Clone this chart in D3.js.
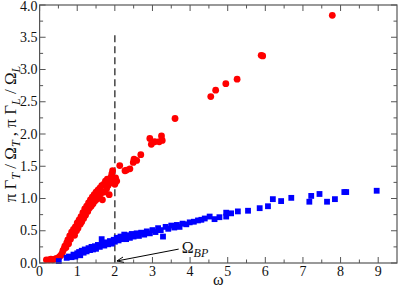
<!DOCTYPE html>
<html>
<head>
<meta charset="utf-8">
<script src="https://cdn.jsdelivr.net/npm/d3@7"></script>
<style>
  body { margin: 0; background: #fff; }
</style>
</head>
<body>
<div id="chart"></div>
<script>
// transverse damping (red circles): [omega, value]
const redPoints = [
  [0.18, 0.05], [0.25, 0.05], [0.3, 0.06], [0.35, 0.05], [0.4, 0.06], [0.45, 0.07],
  [0.5, 0.08], [0.53, 0.1], [0.57, 0.12], [0.6, 0.15], [0.62, 0.19], [0.65, 0.22],
  [0.67, 0.26], [0.7, 0.24], [0.72, 0.31], [0.75, 0.36], [0.77, 0.3], [0.8, 0.42],
  [0.82, 0.37], [0.85, 0.48], [0.88, 0.44], [0.9, 0.52], [0.93, 0.43], [0.95, 0.56],
  [0.98, 0.5], [1.0, 0.62], [1.02, 0.54], [1.05, 0.67], [1.08, 0.6], [1.1, 0.72],
  [1.12, 0.64], [1.15, 0.78], [1.17, 0.69], [1.2, 0.84], [1.22, 0.74], [1.25, 0.88],
  [1.28, 0.8], [1.3, 0.93], [1.32, 0.85], [1.35, 0.98], [1.37, 0.88], [1.4, 1.02],
  [1.42, 0.92], [1.45, 1.06], [1.47, 0.96], [1.5, 1.1], [1.52, 0.99], [1.55, 1.13],
  [1.57, 1.03], [1.6, 1.16], [1.62, 1.07], [1.65, 1.2], [1.67, 0.98], [1.7, 1.22],
  [1.72, 1.1], [1.75, 1.27], [1.78, 1.15], [1.8, 1.3], [1.82, 1.2], [1.85, 1.06],
  [1.87, 1.24], [1.9, 1.33], [1.92, 1.38], [1.94, 1.43], [1.97, 1.26], [2.0, 1.22],
  [2.02, 1.32], [2.05, 1.27], [2.13, 1.51], [2.27, 1.43], [2.31, 1.44], [2.4, 1.46],
  [2.49, 1.56], [2.51, 1.61], [2.58, 1.59], [2.69, 1.68], [2.93, 1.93], [2.97, 1.84],
  [3.06, 1.88], [3.18, 1.88], [3.24, 1.97], [3.26, 1.9], [3.6, 2.24], [4.55, 2.58],
  [4.68, 2.68], [4.95, 2.78], [5.25, 2.85], [5.89, 3.22], [5.93, 3.21], [7.78, 3.84]
]

// longitudinal damping (blue squares): [omega, value]
const bluePoints = [
  [0.51, 0.03], [0.72, 0.08], [0.78, 0.1], [0.85, 0.09], [0.9, 0.13], [0.95, 0.1],
  [1.0, 0.15], [1.05, 0.17], [1.08, 0.12], [1.12, 0.19], [1.17, 0.16], [1.2, 0.21],
  [1.25, 0.18], [1.3, 0.23], [1.34, 0.2], [1.38, 0.25], [1.42, 0.21], [1.47, 0.26],
  [1.5, 0.22], [1.55, 0.28], [1.6, 0.25], [1.65, 0.37], [1.68, 0.3], [1.72, 0.27],
  [1.77, 0.32], [1.82, 0.29], [1.87, 0.34], [1.92, 0.3], [1.97, 0.36], [2.0, 0.33],
  [2.05, 0.39], [2.1, 0.35], [2.15, 0.41], [2.2, 0.37], [2.25, 0.44], [2.3, 0.37],
  [2.35, 0.43], [2.4, 0.39], [2.45, 0.45], [2.5, 0.41], [2.58, 0.46], [2.64, 0.42],
  [2.7, 0.47], [2.78, 0.44], [2.85, 0.49], [2.93, 0.46], [3.0, 0.51], [3.08, 0.48],
  [3.15, 0.54], [3.22, 0.51], [3.28, 0.41], [3.35, 0.56], [3.42, 0.53], [3.5, 0.58],
  [3.58, 0.55], [3.65, 0.59], [3.72, 0.56], [3.8, 0.61], [3.9, 0.6], [3.99, 0.63],
  [4.1, 0.64], [4.21, 0.66], [4.3, 0.67], [4.39, 0.69], [4.52, 0.72], [4.65, 0.68],
  [4.78, 0.71], [4.96, 0.78], [4.96, 0.72], [5.09, 0.77], [5.27, 0.8], [5.54, 0.81],
  [5.85, 0.85], [6.07, 0.88], [6.2, 0.99], [6.42, 0.96], [6.69, 1.01], [7.17, 0.95],
  [7.22, 1.04], [7.44, 1.07], [7.64, 0.95], [7.85, 0.99], [8.1, 1.1], [8.15, 1.1],
  [8.96, 1.12]
]

const xTicks = [0, 1, 2, 3, 4, 5, 6, 7, 8, 9]
const yTicks = [0, 0.5, 1, 1.5, 2, 2.5, 3, 3.5, 4]
const xMinor = d3.range(0.5, 9.5, 1)
const yMinor = d3.range(0.25, 4, 0.5)
const omegaBP = 2
const dashTop = 3.53
const bpLabelAt = [3.75, 0.2]

const W = 399, H = 287
const margin = { top: 5, right: 2, bottom: 24, left: 39.6 }
const serif = '"Liberation Serif", "Times New Roman", Times, serif'

const svg = d3.select('#chart').append('svg')
  .attr('width', W).attr('height', H)
  .style('display', 'block')
  .attr('font-family', serif)

const x = d3.scaleLinear().domain([0, 9.5]).range([margin.left, W - margin.right])
const y = d3.scaleLinear().domain([0, 4]).range([H - margin.bottom, margin.top])

// ticks (inward on all sides)
const tickGroup = svg.append('g').attr('stroke', '#555')
const drawXTicks = (vals, len) => {
  vals.forEach(v => {
    tickGroup.append('line').attr('x1', x(v)).attr('x2', x(v))
      .attr('y1', y(0)).attr('y2', y(0) - len)
    tickGroup.append('line').attr('x1', x(v)).attr('x2', x(v))
      .attr('y1', y(4)).attr('y2', y(4) + len)
  })
}
const drawYTicks = (vals, len) => {
  vals.forEach(v => {
    tickGroup.append('line').attr('y1', y(v)).attr('y2', y(v))
      .attr('x1', x(0)).attr('x2', x(0) + len)
    tickGroup.append('line').attr('y1', y(v)).attr('y2', y(v))
      .attr('x1', x(9.5)).attr('x2', x(9.5) - len)
  })
}
drawXTicks(xTicks, 6)
drawXTicks(xMinor, 3.5)
drawYTicks(yTicks, 6)
drawYTicks(yMinor, 3.5)

// tick labels
svg.append('g').selectAll('text').data(xTicks).enter().append('text')
  .attr('font-family', serif).attr('font-size', 14).attr('fill', '#111')
  .attr('x', d => x(d)).attr('y', y(0) + 13)
  .attr('text-anchor', 'middle')
  .text(d => d)
svg.append('g').selectAll('text').data(yTicks).enter().append('text')
  .attr('font-family', serif).attr('font-size', 14).attr('fill', '#111')
  .attr('x', x(0) - 2).attr('y', d => Math.max(y(d) + 4.5, 11))
  .attr('text-anchor', 'end')
  .text(d => d.toFixed(1))

// dashed line at omega_BP
svg.append('line')
  .attr('x1', x(omegaBP)).attr('x2', x(omegaBP))
  .attr('y1', y(dashTop)).attr('y2', y(0))
  .attr('stroke', '#444').attr('stroke-width', 1.5)
  .attr('stroke-dasharray', '7,4')

// red circles
svg.append('g').selectAll('circle').data(redPoints).enter().append('circle')
  .attr('cx', d => x(d[0])).attr('cy', d => y(d[1]))
  .attr('r', 3.4).attr('fill', '#ff0000')

// blue squares
const s = 5.8
svg.append('g').selectAll('rect').data(bluePoints).enter().append('rect')
  .attr('x', d => x(d[0]) - s / 2).attr('y', d => y(d[1]) - s / 2)
  .attr('width', s).attr('height', s).attr('fill', '#0000ff')

// frame
svg.append('rect')
  .attr('x', x(0)).attr('y', y(4))
  .attr('width', x(9.5) - x(0)).attr('height', y(0) - y(4))
  .attr('fill', 'none').attr('stroke', '#555').attr('stroke-width', 1.2)

// annotation
svg.append('defs').append('marker')
  .attr('id', 'arr').attr('viewBox', '0 0 10 10')
  .attr('refX', 10).attr('refY', 5)
  .attr('markerWidth', 7).attr('markerHeight', 7)
  .attr('orient', 'auto')
  .append('path').attr('d', 'M0,1 L10,5 L0,9').attr('fill', 'none')
  .attr('stroke', '#000').attr('stroke-width', 1.3)
svg.append('line')
  .attr('x1', x(bpLabelAt[0]) - 2).attr('y1', y(bpLabelAt[1]) - 1)
  .attr('x2', x(omegaBP) + 2).attr('y2', y(0) - 2)
  .attr('stroke', '#000').attr('stroke-width', 1)
  .attr('marker-end', 'url(#arr)')
const bp = svg.append('text')
  .attr('font-family', serif).attr('font-size', 16).attr('fill', '#111')
  .attr('x', x(bpLabelAt[0]) + 1).attr('y', y(bpLabelAt[1]) + 3)
bp.append('tspan').text('Ω')
bp.append('tspan').attr('dy', 4).attr('font-size', 12).attr('font-style', 'italic').text('BP')

// axis titles
svg.append('text')
  .attr('font-family', serif).attr('font-size', 16).attr('fill', '#111')
  .attr('x', (x(0) + x(9.5)) / 2).attr('y', H - 2)
  .attr('text-anchor', 'middle')
  .text('ω')

const yt = svg.append('text')
  .attr('font-family', serif).attr('font-size', 17).attr('fill', '#111')
  .attr('transform', `translate(16, ${(y(0) + y(4)) / 2}) rotate(-90)`)
  .attr('text-anchor', 'middle')
const parts = [
  ['π Γ', 0], ['T', 1], [' / Ω', 0], ['T', 1], [' ,  π Γ', 0], ['L', 1], [' / Ω', 0], ['L', 1]
]
parts.forEach(([t, sub]) => {
  yt.append('tspan')
    .attr('baseline-shift', sub ? '-30%' : null)
    .attr('font-size', sub ? 12 : null)
    .attr('font-style', sub ? 'italic' : null)
    .text(t)
})
</script>
</body>
</html>
